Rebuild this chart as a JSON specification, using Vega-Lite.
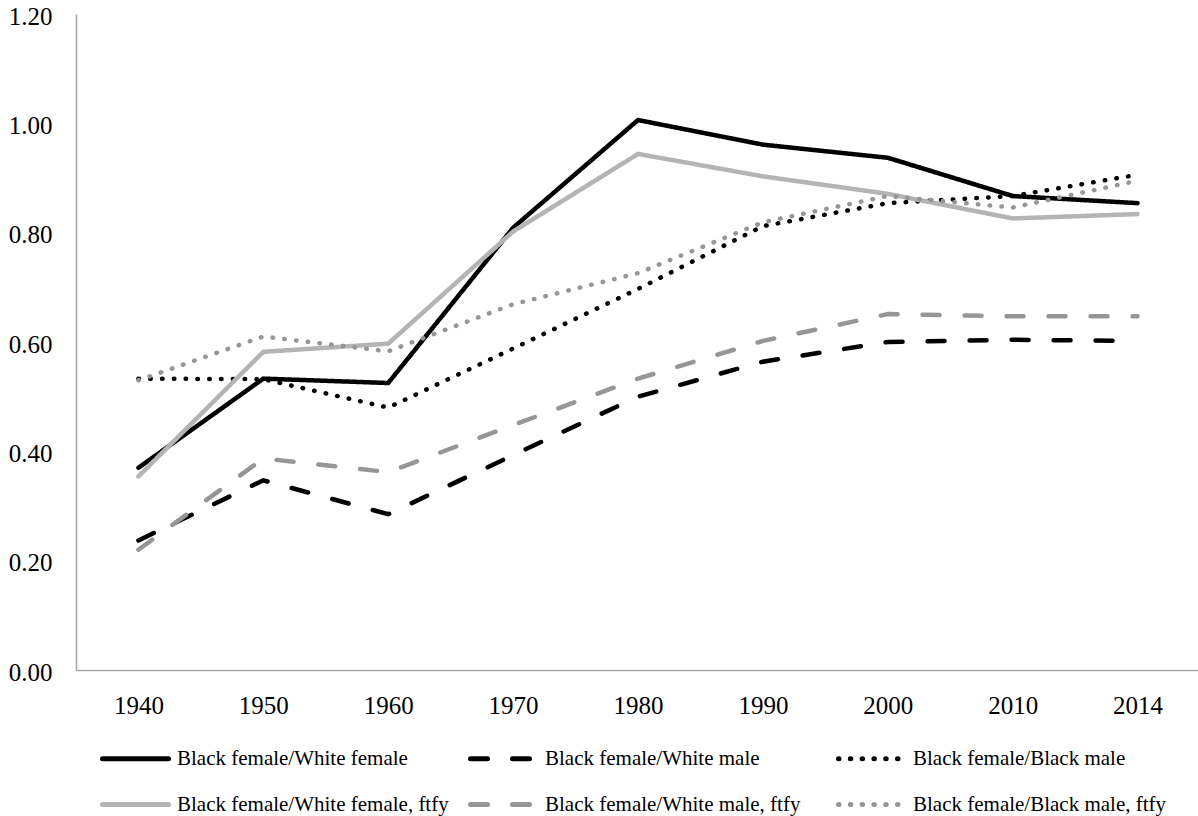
{
  "$schema": "https://vega.github.io/schema/vega-lite/v6.json",
  "width": 1124,
  "height": 656,
  "autosize": "none",
  "padding": {"left": 76, "top": 14, "right": 0, "bottom": 146},
  "config": {
    "view": {"stroke": null},
    "font": "Liberation Serif",
    "text": {"font": "Liberation Serif"}
  },
  "data": {
    "values": [
      {"year": "1940", "series": "Black female/White female", "value": 0.370},
      {"year": "1950", "series": "Black female/White female", "value": 0.533},
      {"year": "1960", "series": "Black female/White female", "value": 0.525},
      {"year": "1970", "series": "Black female/White female", "value": 0.809},
      {"year": "1980", "series": "Black female/White female", "value": 1.006},
      {"year": "1990", "series": "Black female/White female", "value": 0.961},
      {"year": "2000", "series": "Black female/White female", "value": 0.937},
      {"year": "2010", "series": "Black female/White female", "value": 0.867},
      {"year": "2014", "series": "Black female/White female", "value": 0.854},

      {"year": "1940", "series": "Black female/White male", "value": 0.237},
      {"year": "1950", "series": "Black female/White male", "value": 0.347},
      {"year": "1960", "series": "Black female/White male", "value": 0.285},
      {"year": "1970", "series": "Black female/White male", "value": 0.393},
      {"year": "1980", "series": "Black female/White male", "value": 0.500},
      {"year": "1990", "series": "Black female/White male", "value": 0.564},
      {"year": "2000", "series": "Black female/White male", "value": 0.600},
      {"year": "2010", "series": "Black female/White male", "value": 0.604},
      {"year": "2014", "series": "Black female/White male", "value": 0.602},

      {"year": "1940", "series": "Black female/Black male", "value": 0.533},
      {"year": "1950", "series": "Black female/Black male", "value": 0.532},
      {"year": "1960", "series": "Black female/Black male", "value": 0.480},
      {"year": "1970", "series": "Black female/Black male", "value": 0.588},
      {"year": "1980", "series": "Black female/Black male", "value": 0.697},
      {"year": "1990", "series": "Black female/Black male", "value": 0.812},
      {"year": "2000", "series": "Black female/Black male", "value": 0.854},
      {"year": "2010", "series": "Black female/Black male", "value": 0.867},
      {"year": "2014", "series": "Black female/Black male", "value": 0.906},

      {"year": "1940", "series": "Black female/White female, ftfy", "value": 0.354},
      {"year": "1950", "series": "Black female/White female, ftfy", "value": 0.582},
      {"year": "1960", "series": "Black female/White female, ftfy", "value": 0.597},
      {"year": "1970", "series": "Black female/White female, ftfy", "value": 0.802},
      {"year": "1980", "series": "Black female/White female, ftfy", "value": 0.944},
      {"year": "1990", "series": "Black female/White female, ftfy", "value": 0.903},
      {"year": "2000", "series": "Black female/White female, ftfy", "value": 0.871},
      {"year": "2010", "series": "Black female/White female, ftfy", "value": 0.826},
      {"year": "2014", "series": "Black female/White female, ftfy", "value": 0.834},

      {"year": "1940", "series": "Black female/White male, ftfy", "value": 0.220},
      {"year": "1950", "series": "Black female/White male, ftfy", "value": 0.387},
      {"year": "1960", "series": "Black female/White male, ftfy", "value": 0.362},
      {"year": "1970", "series": "Black female/White male, ftfy", "value": 0.448},
      {"year": "1980", "series": "Black female/White male, ftfy", "value": 0.533},
      {"year": "1990", "series": "Black female/White male, ftfy", "value": 0.602},
      {"year": "2000", "series": "Black female/White male, ftfy", "value": 0.651},
      {"year": "2010", "series": "Black female/White male, ftfy", "value": 0.647},
      {"year": "2014", "series": "Black female/White male, ftfy", "value": 0.647},

      {"year": "1940", "series": "Black female/Black male, ftfy", "value": 0.530},
      {"year": "1950", "series": "Black female/Black male, ftfy", "value": 0.610},
      {"year": "1960", "series": "Black female/Black male, ftfy", "value": 0.583},
      {"year": "1970", "series": "Black female/Black male, ftfy", "value": 0.669},
      {"year": "1980", "series": "Black female/Black male, ftfy", "value": 0.726},
      {"year": "1990", "series": "Black female/Black male, ftfy", "value": 0.819},
      {"year": "2000", "series": "Black female/Black male, ftfy", "value": 0.867},
      {"year": "2010", "series": "Black female/Black male, ftfy", "value": 0.846},
      {"year": "2014", "series": "Black female/Black male, ftfy", "value": 0.895}
    ]
  },
  "mark": {"type": "line", "strokeWidth": 4.5, "strokeCap": "round", "strokeJoin": "miter"},
  "encoding": {
    "x": {
      "field": "year",
      "type": "ordinal",
      "scale": {"type": "point", "padding": 0.5},
      "axis": {
        "title": null,
        "labelAngle": 0,
        "labelFont": "Liberation Serif",
        "labelFontSize": 25,
        "labelColor": "#000000",
        "labelBaseline": "middle",
        "labelPadding": 35,
        "ticks": false,
        "grid": false,
        "domainColor": "#a6a6a6",
        "domainWidth": 1.5
      }
    },
    "y": {
      "field": "value",
      "type": "quantitative",
      "scale": {"domain": [0, 1.2], "nice": false, "zero": true},
      "axis": {
        "title": null,
        "values": [0, 0.2, 0.4, 0.6, 0.8, 1.0, 1.2],
        "format": ".2f",
        "labelFont": "Liberation Serif",
        "labelFontSize": 25,
        "labelColor": "#000000",
        "labelPadding": 24,
        "labelOffset": 2,
        "labelFlush": false,
        "ticks": false,
        "grid": false,
        "domainColor": "#a6a6a6",
        "domainWidth": 1.5
      }
    },
    "color": {
      "field": "series",
      "type": "nominal",
      "scale": {
        "domain": [
          "Black female/White female",
          "Black female/White female, ftfy",
          "Black female/White male",
          "Black female/White male, ftfy",
          "Black female/Black male",
          "Black female/Black male, ftfy"
        ],
        "range": ["#000000", "#b4b4b4", "#000000", "#969696", "#000000", "#969696"]
      },
      "legend": {
        "title": null,
        "orient": "none",
        "legendX": 24,
        "legendY": 709,
        "columns": 3,
        "gridAlign": "all",
        "columnPadding": 11,
        "rowPadding": 0,
        "padding": 0,
        "symbolType": "stroke",
        "symbolSize": 4356,
        "symbolStrokeWidth": 5,
        "labelFont": "Liberation Serif",
        "labelFontSize": 21,
        "labelColor": "#000000",
        "labelOffset": 6,
        "labelLimit": 400,
        "encode": {"symbols": {"update": {"strokeCap": {"value": "round"}}}}
      }
    },
    "strokeDash": {
      "field": "series",
      "type": "nominal",
      "scale": {
        "domain": [
          "Black female/White female",
          "Black female/White female, ftfy",
          "Black female/White male",
          "Black female/White male, ftfy",
          "Black female/Black male",
          "Black female/Black male, ftfy"
        ],
        "range": [[1, 0], [1, 0], [17, 25], [17, 25], [0.5, 11.3], [0.5, 11.3]]
      }
    }
  }
}
